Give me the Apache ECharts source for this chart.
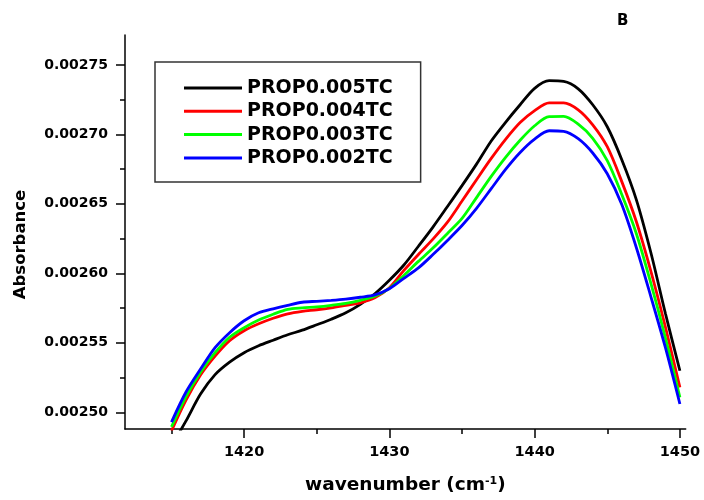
<!DOCTYPE html>
<html><head><meta charset="utf-8">
<script src="https://cdn.jsdelivr.net/npm/echarts@6/dist/echarts.min.js"></script>
<style>html,body{margin:0;padding:0;background:#fff}#c{width:704px;height:500px}</style>
</head><body><div id="c"></div>
<script>
const wavenumbers = [1415,1416,1417,1418,1419,1420,1421,1422,1423,1424,1425,1426,1427,1428,1429,1430,1431,1432,1433,1434,1435,1436,1437,1438,1439,1440,1441,1442,1443,1444,1445,1446,1447,1448,1449,1450];
const prop005 = [0.0024758,0.0024938,0.0025131,0.0025271,0.0025361,0.0025429,0.0025479,0.0025519,0.0025558,0.0025591,0.0025630,0.0025670,0.0025716,0.0025777,0.0025853,0.0025950,0.0026060,0.0026195,0.0026333,0.0026481,0.0026631,0.0026786,0.0026951,0.0027087,0.0027213,0.0027331,0.0027386,0.0027381,0.0027328,0.0027213,0.0027055,0.0026818,0.0026531,0.0026150,0.0025713,0.0025299];
const prop004 = [0.0024866,0.0025088,0.0025268,0.0025404,0.0025515,0.0025587,0.0025637,0.0025677,0.0025709,0.0025727,0.0025738,0.0025752,0.0025770,0.0025788,0.0025824,0.0025896,0.0026021,0.0026136,0.0026246,0.0026368,0.0026520,0.0026674,0.0026825,0.0026964,0.0027085,0.0027171,0.0027227,0.0027227,0.0027177,0.0027069,0.0026911,0.0026660,0.0026373,0.0026016,0.0025615,0.0025179];
const prop003 = [0.0024895,0.0025113,0.0025289,0.0025429,0.0025540,0.0025609,0.0025664,0.0025706,0.0025741,0.0025752,0.0025759,0.0025770,0.0025784,0.0025806,0.0025835,0.0025892,0.0025985,0.0026086,0.0026182,0.0026287,0.0026395,0.0026545,0.0026696,0.0026835,0.0026958,0.0027062,0.0027127,0.0027129,0.0027073,0.0026972,0.0026811,0.0026567,0.0026287,0.0025929,0.0025538,0.0025108];
const prop002 = [0.0024930,0.0025146,0.0025311,0.0025465,0.0025573,0.0025659,0.0025716,0.0025745,0.0025770,0.0025792,0.0025799,0.0025806,0.0025815,0.0025828,0.0025845,0.0025889,0.0025964,0.0026039,0.0026135,0.0026237,0.0026344,0.0026468,0.0026608,0.0026748,0.0026870,0.0026966,0.0027026,0.0027022,0.0026969,0.0026866,0.0026717,0.0026495,0.0026186,0.0025833,0.0025467,0.0025060];
const seriesNames = ['PROP0.005TC','PROP0.004TC','PROP0.003TC','PROP0.002TC'];
const seriesColors = ['#000000','#ff0000','#00ff00','#0000ff'];
const yTicks = [0.0025,0.00255,0.0026,0.00265,0.0027,0.00275];
const yMinorTicks = [0.002525,0.002575,0.002625,0.002675,0.002725];
const xTicks = [1420,1430,1440,1450];
const xMinorTicks = [1415,1425,1435,1445];

const FONT = 'DejaVu Sans';
const allValues = [prop005, prop004, prop003, prop002];
const chart = echarts.init(document.getElementById('c'), null, {renderer:'canvas'});
const yMin = 0.002488, yMax = 0.0027715, xMin = 1411.8, xMax = 1450.4;
const axisLineStyle = {color:'#000', width:1.5};

chart.setOption({
  animation:false,
  backgroundColor:'#fff',
  title:{text:'B', left:612, top:9, textStyle:{fontFamily:FONT, fontWeight:'bold', fontSize:15, color:'#000'}},
  grid:{left:125, top:35, right:18.3, bottom:70},
  legend:{
    orient:'vertical', left:155, top:62, padding:[16,28,14,29],
    itemWidth:58, itemHeight:3, itemGap:3.3, icon:'rect',
    borderColor:'#333', borderWidth:1.5, backgroundColor:'#fff',
    textStyle:{fontFamily:FONT, fontWeight:'bold', fontSize:19, lineHeight:20, color:'#000'},
    data:seriesNames
  },
  xAxis:[{
    type:'value', min:xMin, max:xMax, position:'bottom',
    axisLine:{show:true, lineStyle:axisLineStyle},
    axisTick:{show:true, inside:false, length:9, customValues:xTicks, lineStyle:axisLineStyle},
    axisLabel:{customValues:xTicks, formatter:v=>String(Math.round(v)), margin:16, fontFamily:FONT, fontWeight:'bold', fontSize:14.5, color:'#000'},
    splitLine:{show:false},
    name:'{t|wavenumber (cm}{s|-1}{t|)}', nameLocation:'middle', nameGap:47,
    nameTextStyle:{rich:{
      t:{fontFamily:FONT, fontWeight:'bold', fontSize:18.5, color:'#000'},
      s:{fontFamily:FONT, fontWeight:'bold', fontSize:11, color:'#000', verticalAlign:'top'}
    }}
  },{
    type:'value', min:xMin, max:xMax, position:'bottom',
    axisLine:{show:false},
    axisTick:{show:true, inside:false, length:5, customValues:xMinorTicks, lineStyle:axisLineStyle},
    axisLabel:{show:false}, splitLine:{show:false}
  }],
  yAxis:[{
    type:'value', min:yMin, max:yMax, position:'left',
    axisLine:{show:true, lineStyle:axisLineStyle},
    axisTick:{show:true, inside:false, length:9, customValues:yTicks, lineStyle:axisLineStyle},
    axisLabel:{customValues:yTicks, formatter:v=>v.toFixed(5), margin:17, fontFamily:FONT, fontWeight:'bold', fontSize:14, color:'#000'},
    splitLine:{show:false},
    name:'Absorbance', nameLocation:'middle', nameGap:96,
    nameTextStyle:{fontFamily:FONT, fontWeight:'bold', fontSize:16.5, color:'#000', padding:[0,25,0,0]}
  },{
    type:'value', min:yMin, max:yMax, position:'left',
    axisLine:{show:false},
    axisTick:{show:true, inside:false, length:5, customValues:yMinorTicks, lineStyle:axisLineStyle},
    axisLabel:{show:false}, splitLine:{show:false}
  }],
  series: seriesNames.map((name,i)=>({
    name, type:'line', xAxisIndex:0, yAxisIndex:0,
    symbol:'none', showSymbol:false, clip:true, smooth:0.3,
    color:seriesColors[i],
    lineStyle:{color:seriesColors[i], width:2.8},
    data: wavenumbers.map((w,k)=>[w, allValues[i][k]])
  }))
});
</script></body></html>
